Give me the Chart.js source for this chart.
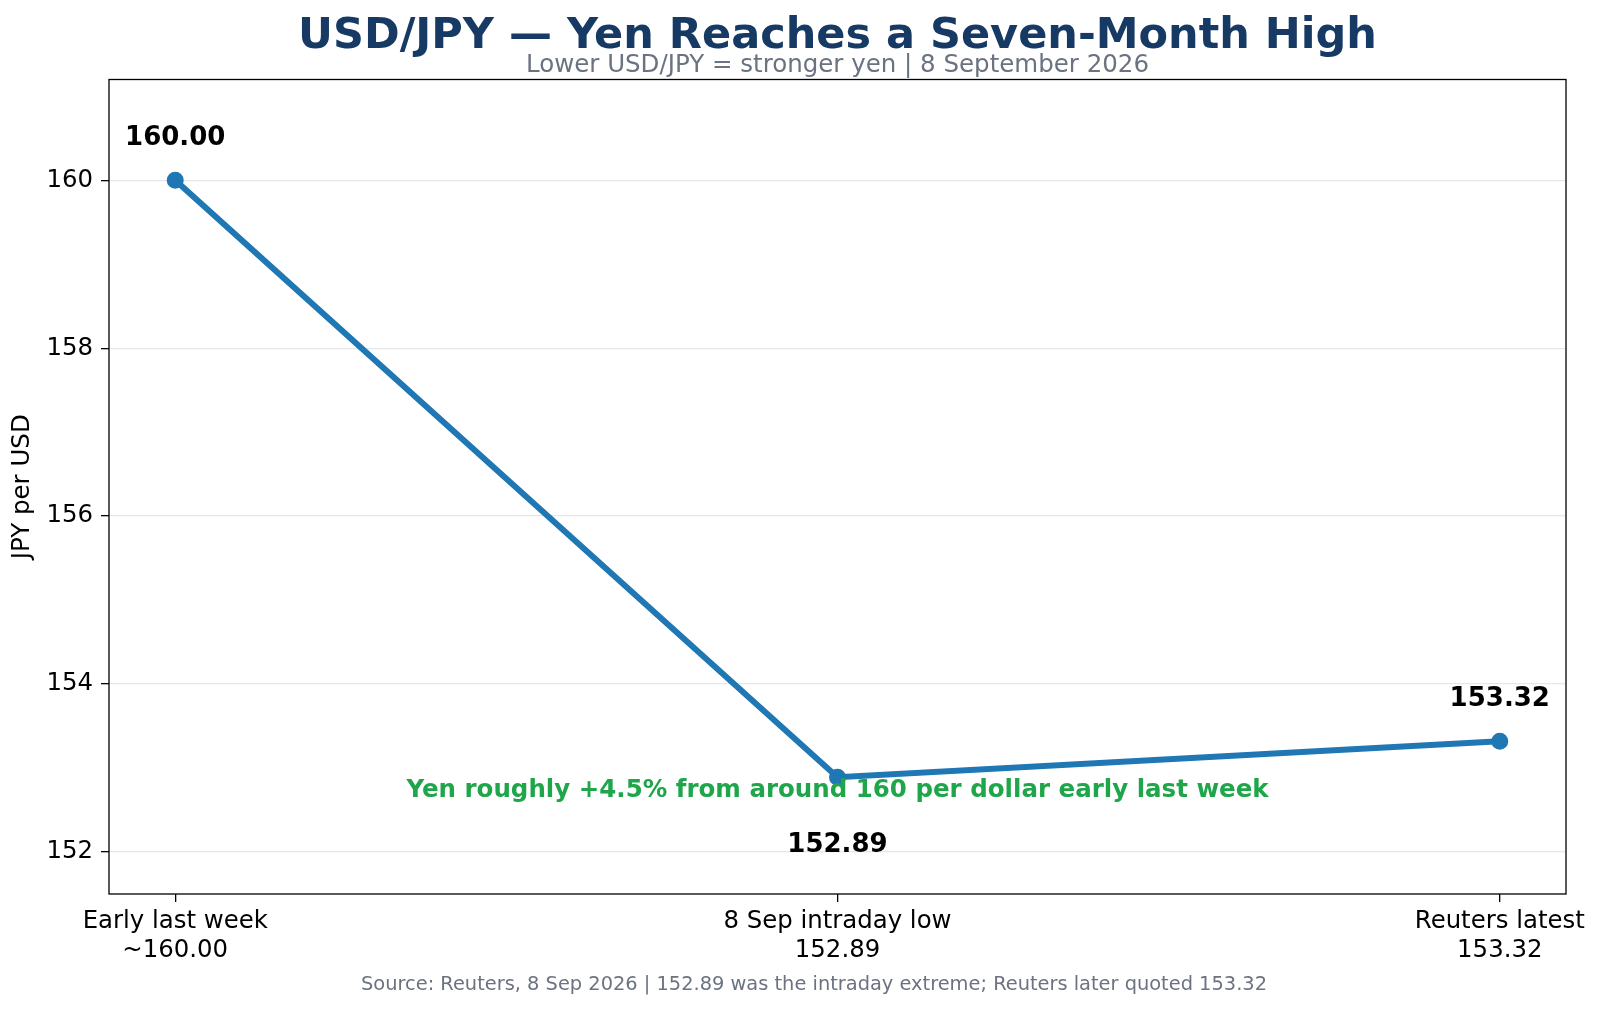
<!DOCTYPE html>
<html lang="en">
<head>
  <meta charset="UTF-8" />
  <title>USD/JPY</title>
  <script src="https://cdn.jsdelivr.net/npm/chart.js"></script>
  <style>
    body { margin: 0; background: #fff; }
    #wrap { width: 1600px; height: 1009px; }
  </style>
</head>
<body>
  <div id="wrap"><canvas id="fxChart"></canvas></div>

  <script>
    // data
    const categories = [['Early last week', '~160.00'], ['8 Sep intraday low', '152.89'], ['Reuters latest', '153.32']];
    const rates = [160.00, 152.89, 153.32];
    const pointLabels = ['160.00', '152.89', '153.32'];
    const labelAbove = [true, false, true];
    const yTicks = [152, 154, 156, 158, 160];

    const FONT = "'DejaVu Sans', sans-serif";

    // titles, frame, point labels and notes drawn on the canvas
    const extras = {
      id: 'extras',
      afterDraw(chart) {
        const { ctx, chartArea: a, scales: { x, y } } = chart;
        const cx = (a.left + a.right) / 2;
        ctx.save();

        ctx.strokeStyle = '#000';
        ctx.lineWidth = 1.3;
        ctx.strokeRect(a.left, a.top, a.right - a.left, a.bottom - a.top);

        ctx.textAlign = 'center';
        ctx.textBaseline = 'alphabetic';
        ctx.fillStyle = '#163a63';
        ctx.font = 'bold 43px ' + FONT;
        ctx.fillText('USD/JPY \u2014 Yen Reaches a Seven-Month High', cx, 48);

        ctx.fillStyle = '#6b7280';
        ctx.font = '24.5px ' + FONT;
        ctx.fillText('Lower USD/JPY = stronger yen | 8 September 2026', cx, 71.5);

        ctx.font = '19.4px ' + FONT;
        ctx.fillText('Source: Reuters, 8 Sep 2026 | 152.89 was the intraday extreme; Reuters later quoted 153.32', 814, 990);

        ctx.fillStyle = '#000';
        ctx.font = 'bold 26px ' + FONT;
        rates.forEach((v, i) => {
          const px = x.getPixelForValue(i);
          const py = y.getPixelForValue(v);
          ctx.fillText(pointLabels[i], px, labelAbove[i] ? py - 35 : py + 75);
        });

        ctx.fillStyle = '#1fa64a';
        ctx.font = 'bold 24.5px ' + FONT;
        ctx.fillText('Yen roughly +4.5% from around 160 per dollar early last week', x.getPixelForValue(1), y.getPixelForValue(152.66));

        ctx.restore();
      }
    };

    const ctx = document.getElementById('fxChart').getContext('2d');
    new Chart(ctx, {
      type: 'line',
      data: {
        datasets: [{
          data: rates.map((v, i) => ({ x: i, y: v })),
          borderColor: '#1f77b4',
          backgroundColor: '#1f77b4',
          borderWidth: 6,
          pointRadius: 5.5,
          pointHoverRadius: 5.5,
          tension: 0
        }]
      },
      options: {
        responsive: true,
        maintainAspectRatio: false,
        animation: false,
        layout: { padding: { top: 79.5, right: 34, left: 0, bottom: 0 } },
        plugins: {
          legend: { display: false },
          tooltip: { enabled: false }
        },
        scales: {
          x: {
            type: 'linear',
            min: -0.1,
            max: 2.1,
            afterBuildTicks: s => { s.ticks = categories.map((c, i) => ({ value: i })); },
            afterFit: s => { s.height = 1009 - 894; },
            ticks: {
              callback: v => categories[v],
              color: '#000',
              font: { family: FONT, size: 24.4, lineHeight: 1.18 },
              padding: 5,
              maxRotation: 0
            },
            grid: { drawOnChartArea: false, tickLength: 8, tickColor: '#000', lineWidth: 1.3 },
            border: { display: false }
          },
          y: {
            min: 151.5,
            max: 161.2,
            afterBuildTicks: s => { s.ticks = yTicks.map(v => ({ value: v })); },
            afterFit: s => { s.width = 109; },
            ticks: {
              color: '#000',
              font: { family: FONT, size: 24.4 },
              padding: 8
            },
            grid: { color: '#e5e7eb', lineWidth: 1.3, tickLength: 8, tickColor: '#000' },
            border: { display: false },
            title: {
              display: true,
              text: 'JPY per USD',
              color: '#000',
              font: { family: FONT, size: 24.5 },
              padding: { top: 8, bottom: 8 }
            }
          }
        }
      },
      plugins: [extras]
    });
  </script>
</body>
</html>
